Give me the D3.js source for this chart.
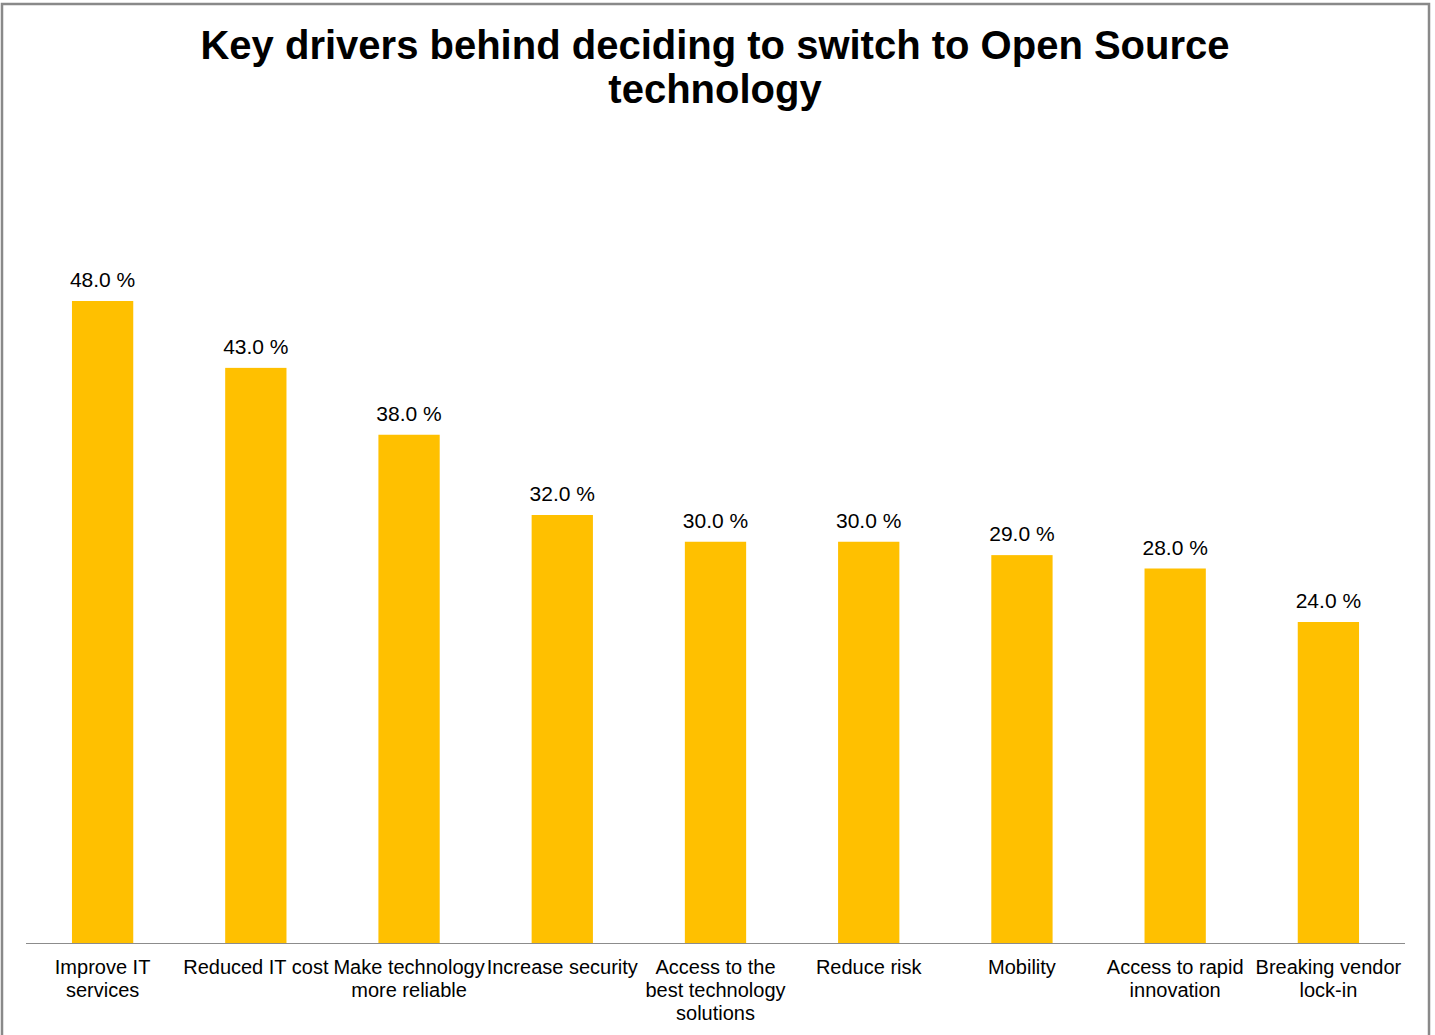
<!DOCTYPE html>
<html>
<head>
<meta charset="utf-8">
<script src="https://cdn.jsdelivr.net/npm/d3@7"></script>
<style>
  html, body { margin: 0; padding: 0; background: #fff; }
  svg { display: block; }
</style>
</head>
<body>
<svg id="chart" width="1435" height="1035"></svg>
<script>
const categories = [
  ["Improve IT", "services"],
  ["Reduced IT cost"],
  ["Make technology", "more reliable"],
  ["Increase security"],
  ["Access to the", "best technology", "solutions"],
  ["Reduce risk"],
  ["Mobility"],
  ["Access to rapid", "innovation"],
  ["Breaking vendor", "lock-in"]
];
const values = [48.0, 43.0, 38.0, 32.0, 30.0, 30.0, 29.0, 28.0, 24.0];
const titleLines = ["Key drivers behind deciding to switch to Open Source", "technology"];

const svg = d3.select("#chart");
const font = "'Liberation Sans', Arial, sans-serif";

// outer frame
svg.append("rect")
  .attr("x", 2).attr("y", 4)
  .attr("width", 1427).attr("height", 1040)
  .attr("fill", "#fff").attr("stroke", "#898989").attr("stroke-width", 2.5);

// title
svg.append("text")
  .attr("text-anchor", "middle")
  .attr("font-family", font).attr("font-weight", "bold")
  .attr("font-size", 40).attr("fill", "#000")
  .selectAll("tspan").data(titleLines).join("tspan")
  .attr("x", 715).attr("y", (d, i) => 59 + i * 44)
  .text(d => d);

const left = 26, right = 1405, base = 943;
const x = d3.scaleBand()
  .domain(d3.range(values.length))
  .range([left, right])
  .paddingInner(0.6).paddingOuter(0.3);
const y = d3.scaleLinear().domain([0, 48]).range([base, 301]);

// bars
svg.append("g").selectAll("rect").data(values).join("rect")
  .attr("x", (d, i) => x(i))
  .attr("y", d => y(d))
  .attr("width", x.bandwidth())
  .attr("height", d => base - y(d))
  .attr("fill", "#FFC000");

// value labels
svg.append("g").selectAll("text").data(values).join("text")
  .attr("x", (d, i) => x(i) + x.bandwidth() / 2)
  .attr("y", d => y(d) - 14)
  .attr("text-anchor", "middle")
  .attr("font-family", font).attr("font-size", 21).attr("fill", "#000")
  .text(d => d3.format(".1f")(d) + " %");

// category axis
const axis = d3.axisBottom(x).tickSize(0).tickFormat("");
const gAxis = svg.append("g").attr("transform", `translate(0,${base})`).call(axis);
gAxis.select(".domain").attr("stroke", "#8c8c8c").attr("stroke-width", 1.2)
  .attr("d", `M${left},0.5H${right}`);

svg.append("g").selectAll("text").data(categories).join("text")
  .attr("text-anchor", "middle")
  .attr("font-family", font).attr("font-size", 20).attr("fill", "#000")
  .each(function(lines, i) {
    const cx = x(i) + x.bandwidth() / 2;
    d3.select(this).selectAll("tspan").data(lines).join("tspan")
      .attr("x", cx)
      .attr("y", (d, j) => 974 + j * 23)
      .text(d => d);
  });
</script>
</body>
</html>
